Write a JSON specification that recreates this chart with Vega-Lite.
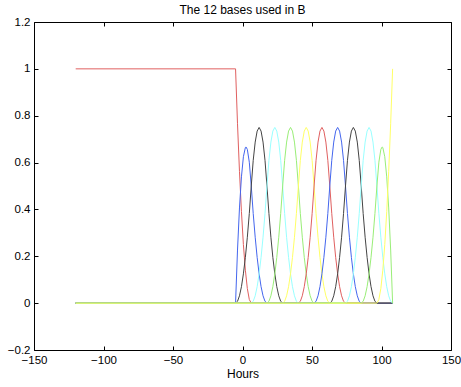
{
"$schema":"https://vega.github.io/schema/vega-lite/v6.json",
"width":417,"height":328,
"autosize":{"type":"none"},
"padding":{"left":34,"top":22,"right":10,"bottom":37},
"background":"white",
"config":{"view":{"stroke":null},"font":"Liberation Sans"},
"title":{"text":"The 12 bases used in B","fontSize":12,"fontWeight":"normal","color":"#000","offset":-1,"anchor":"middle","font":"Liberation Sans"},
"data":{"values":[
{"s":"B01","x":-120,"y":1},{"s":"B01","x":-5,"y":1},{"s":"B01","x":-3.59,"y":0.7656},{"s":"B01","x":-2.18,"y":0.5625},{"s":"B01","x":-0.76,"y":0.3906},{"s":"B01","x":0.65,"y":0.25},{"s":"B01","x":2.06,"y":0.1406},{"s":"B01","x":3.48,"y":0.0625},{"s":"B01","x":4.89,"y":0.0156},{"s":"B01","x":6.3,"y":0},{"s":"B01","x":108,"y":0},
{"s":"B02","x":-120,"y":0},{"s":"B02","x":-5,"y":0},{"s":"B02","x":-3.59,"y":0.2266},{"s":"B02","x":-2.18,"y":0.4063},{"s":"B02","x":-0.76,"y":0.5391},{"s":"B02","x":0.65,"y":0.625},{"s":"B02","x":2.06,"y":0.6641},{"s":"B02","x":2.53,"y":0.6667},{"s":"B02","x":3.48,"y":0.6563},{"s":"B02","x":4.89,"y":0.6016},{"s":"B02","x":6.3,"y":0.5},{"s":"B02","x":7.71,"y":0.3828},{"s":"B02","x":9.13,"y":0.2813},{"s":"B02","x":10.54,"y":0.1953},{"s":"B02","x":11.95,"y":0.125},{"s":"B02","x":13.36,"y":0.0703},{"s":"B02","x":14.78,"y":0.0313},{"s":"B02","x":16.19,"y":0.0078},{"s":"B02","x":17.6,"y":0},{"s":"B02","x":108,"y":0},
{"s":"B03","x":-120,"y":0},{"s":"B03","x":-5,"y":0},{"s":"B03","x":-3.59,"y":0.0078},{"s":"B03","x":-2.18,"y":0.0313},{"s":"B03","x":-0.76,"y":0.0703},{"s":"B03","x":0.65,"y":0.125},{"s":"B03","x":2.06,"y":0.1953},{"s":"B03","x":3.48,"y":0.2813},{"s":"B03","x":4.89,"y":0.3828},{"s":"B03","x":6.3,"y":0.5},{"s":"B03","x":7.71,"y":0.6094},{"s":"B03","x":9.13,"y":0.6875},{"s":"B03","x":10.54,"y":0.7344},{"s":"B03","x":11.95,"y":0.75},{"s":"B03","x":13.36,"y":0.7344},{"s":"B03","x":14.78,"y":0.6875},{"s":"B03","x":16.19,"y":0.6094},{"s":"B03","x":17.6,"y":0.5},{"s":"B03","x":19.01,"y":0.3828},{"s":"B03","x":20.43,"y":0.2813},{"s":"B03","x":21.84,"y":0.1953},{"s":"B03","x":23.25,"y":0.125},{"s":"B03","x":24.66,"y":0.0703},{"s":"B03","x":26.08,"y":0.0313},{"s":"B03","x":27.49,"y":0.0078},{"s":"B03","x":28.9,"y":0},{"s":"B03","x":108,"y":0},
{"s":"B04","x":-120,"y":0},{"s":"B04","x":6.3,"y":0},{"s":"B04","x":7.71,"y":0.0078},{"s":"B04","x":9.13,"y":0.0313},{"s":"B04","x":10.54,"y":0.0703},{"s":"B04","x":11.95,"y":0.125},{"s":"B04","x":13.36,"y":0.1953},{"s":"B04","x":14.78,"y":0.2813},{"s":"B04","x":16.19,"y":0.3828},{"s":"B04","x":17.6,"y":0.5},{"s":"B04","x":19.01,"y":0.6094},{"s":"B04","x":20.43,"y":0.6875},{"s":"B04","x":21.84,"y":0.7344},{"s":"B04","x":23.25,"y":0.75},{"s":"B04","x":24.66,"y":0.7344},{"s":"B04","x":26.08,"y":0.6875},{"s":"B04","x":27.49,"y":0.6094},{"s":"B04","x":28.9,"y":0.5},{"s":"B04","x":30.31,"y":0.3828},{"s":"B04","x":31.73,"y":0.2813},{"s":"B04","x":33.14,"y":0.1953},{"s":"B04","x":34.55,"y":0.125},{"s":"B04","x":35.96,"y":0.0703},{"s":"B04","x":37.38,"y":0.0313},{"s":"B04","x":38.79,"y":0.0078},{"s":"B04","x":40.2,"y":0},{"s":"B04","x":108,"y":0},
{"s":"B05","x":-120,"y":0},{"s":"B05","x":17.6,"y":0},{"s":"B05","x":19.01,"y":0.0078},{"s":"B05","x":20.43,"y":0.0313},{"s":"B05","x":21.84,"y":0.0703},{"s":"B05","x":23.25,"y":0.125},{"s":"B05","x":24.66,"y":0.1953},{"s":"B05","x":26.08,"y":0.2813},{"s":"B05","x":27.49,"y":0.3828},{"s":"B05","x":28.9,"y":0.5},{"s":"B05","x":30.31,"y":0.6094},{"s":"B05","x":31.73,"y":0.6875},{"s":"B05","x":33.14,"y":0.7344},{"s":"B05","x":34.55,"y":0.75},{"s":"B05","x":35.96,"y":0.7344},{"s":"B05","x":37.38,"y":0.6875},{"s":"B05","x":38.79,"y":0.6094},{"s":"B05","x":40.2,"y":0.5},{"s":"B05","x":41.61,"y":0.3828},{"s":"B05","x":43.03,"y":0.2813},{"s":"B05","x":44.44,"y":0.1953},{"s":"B05","x":45.85,"y":0.125},{"s":"B05","x":47.26,"y":0.0703},{"s":"B05","x":48.68,"y":0.0313},{"s":"B05","x":50.09,"y":0.0078},{"s":"B05","x":51.5,"y":0},{"s":"B05","x":108,"y":0},
{"s":"B06","x":-120,"y":0},{"s":"B06","x":28.9,"y":0},{"s":"B06","x":30.31,"y":0.0078},{"s":"B06","x":31.73,"y":0.0313},{"s":"B06","x":33.14,"y":0.0703},{"s":"B06","x":34.55,"y":0.125},{"s":"B06","x":35.96,"y":0.1953},{"s":"B06","x":37.38,"y":0.2813},{"s":"B06","x":38.79,"y":0.3828},{"s":"B06","x":40.2,"y":0.5},{"s":"B06","x":41.61,"y":0.6094},{"s":"B06","x":43.03,"y":0.6875},{"s":"B06","x":44.44,"y":0.7344},{"s":"B06","x":45.85,"y":0.75},{"s":"B06","x":47.26,"y":0.7344},{"s":"B06","x":48.68,"y":0.6875},{"s":"B06","x":50.09,"y":0.6094},{"s":"B06","x":51.5,"y":0.5},{"s":"B06","x":52.91,"y":0.3828},{"s":"B06","x":54.33,"y":0.2813},{"s":"B06","x":55.74,"y":0.1953},{"s":"B06","x":57.15,"y":0.125},{"s":"B06","x":58.56,"y":0.0703},{"s":"B06","x":59.98,"y":0.0313},{"s":"B06","x":61.39,"y":0.0078},{"s":"B06","x":62.8,"y":0},{"s":"B06","x":108,"y":0},
{"s":"B07","x":-120,"y":0},{"s":"B07","x":40.2,"y":0},{"s":"B07","x":41.61,"y":0.0078},{"s":"B07","x":43.03,"y":0.0313},{"s":"B07","x":44.44,"y":0.0703},{"s":"B07","x":45.85,"y":0.125},{"s":"B07","x":47.26,"y":0.1953},{"s":"B07","x":48.68,"y":0.2813},{"s":"B07","x":50.09,"y":0.3828},{"s":"B07","x":51.5,"y":0.5},{"s":"B07","x":52.91,"y":0.6094},{"s":"B07","x":54.33,"y":0.6875},{"s":"B07","x":55.74,"y":0.7344},{"s":"B07","x":57.15,"y":0.75},{"s":"B07","x":58.56,"y":0.7344},{"s":"B07","x":59.98,"y":0.6875},{"s":"B07","x":61.39,"y":0.6094},{"s":"B07","x":62.8,"y":0.5},{"s":"B07","x":64.21,"y":0.3828},{"s":"B07","x":65.63,"y":0.2813},{"s":"B07","x":67.04,"y":0.1953},{"s":"B07","x":68.45,"y":0.125},{"s":"B07","x":69.86,"y":0.0703},{"s":"B07","x":71.28,"y":0.0313},{"s":"B07","x":72.69,"y":0.0078},{"s":"B07","x":74.1,"y":0},{"s":"B07","x":108,"y":0},
{"s":"B08","x":-120,"y":0},{"s":"B08","x":51.5,"y":0},{"s":"B08","x":52.91,"y":0.0078},{"s":"B08","x":54.33,"y":0.0313},{"s":"B08","x":55.74,"y":0.0703},{"s":"B08","x":57.15,"y":0.125},{"s":"B08","x":58.56,"y":0.1953},{"s":"B08","x":59.98,"y":0.2813},{"s":"B08","x":61.39,"y":0.3828},{"s":"B08","x":62.8,"y":0.5},{"s":"B08","x":64.21,"y":0.6094},{"s":"B08","x":65.63,"y":0.6875},{"s":"B08","x":67.04,"y":0.7344},{"s":"B08","x":68.45,"y":0.75},{"s":"B08","x":69.86,"y":0.7344},{"s":"B08","x":71.28,"y":0.6875},{"s":"B08","x":72.69,"y":0.6094},{"s":"B08","x":74.1,"y":0.5},{"s":"B08","x":75.51,"y":0.3828},{"s":"B08","x":76.93,"y":0.2813},{"s":"B08","x":78.34,"y":0.1953},{"s":"B08","x":79.75,"y":0.125},{"s":"B08","x":81.16,"y":0.0703},{"s":"B08","x":82.58,"y":0.0313},{"s":"B08","x":83.99,"y":0.0078},{"s":"B08","x":85.4,"y":0},{"s":"B08","x":108,"y":0},
{"s":"B09","x":-120,"y":0},{"s":"B09","x":62.8,"y":0},{"s":"B09","x":64.21,"y":0.0078},{"s":"B09","x":65.63,"y":0.0313},{"s":"B09","x":67.04,"y":0.0703},{"s":"B09","x":68.45,"y":0.125},{"s":"B09","x":69.86,"y":0.1953},{"s":"B09","x":71.28,"y":0.2813},{"s":"B09","x":72.69,"y":0.3828},{"s":"B09","x":74.1,"y":0.5},{"s":"B09","x":75.51,"y":0.6094},{"s":"B09","x":76.93,"y":0.6875},{"s":"B09","x":78.34,"y":0.7344},{"s":"B09","x":79.75,"y":0.75},{"s":"B09","x":81.16,"y":0.7344},{"s":"B09","x":82.58,"y":0.6875},{"s":"B09","x":83.99,"y":0.6094},{"s":"B09","x":85.4,"y":0.5},{"s":"B09","x":86.81,"y":0.3828},{"s":"B09","x":88.23,"y":0.2813},{"s":"B09","x":89.64,"y":0.1953},{"s":"B09","x":91.05,"y":0.125},{"s":"B09","x":92.46,"y":0.0703},{"s":"B09","x":93.88,"y":0.0313},{"s":"B09","x":95.29,"y":0.0078},{"s":"B09","x":96.7,"y":0},{"s":"B09","x":108,"y":0},
{"s":"B10","x":-120,"y":0},{"s":"B10","x":74.1,"y":0},{"s":"B10","x":75.51,"y":0.0078},{"s":"B10","x":76.93,"y":0.0313},{"s":"B10","x":78.34,"y":0.0703},{"s":"B10","x":79.75,"y":0.125},{"s":"B10","x":81.16,"y":0.1953},{"s":"B10","x":82.58,"y":0.2813},{"s":"B10","x":83.99,"y":0.3828},{"s":"B10","x":85.4,"y":0.5},{"s":"B10","x":86.81,"y":0.6094},{"s":"B10","x":88.23,"y":0.6875},{"s":"B10","x":89.64,"y":0.7344},{"s":"B10","x":91.05,"y":0.75},{"s":"B10","x":92.46,"y":0.7344},{"s":"B10","x":93.88,"y":0.6875},{"s":"B10","x":95.29,"y":0.6094},{"s":"B10","x":96.7,"y":0.5},{"s":"B10","x":98.11,"y":0.3828},{"s":"B10","x":99.53,"y":0.2813},{"s":"B10","x":100.94,"y":0.1953},{"s":"B10","x":102.35,"y":0.125},{"s":"B10","x":103.76,"y":0.0703},{"s":"B10","x":105.18,"y":0.0313},{"s":"B10","x":106.59,"y":0.0078},{"s":"B10","x":108,"y":0},
{"s":"B11","x":-120,"y":0},{"s":"B11","x":85.4,"y":0},{"s":"B11","x":86.81,"y":0.0078},{"s":"B11","x":88.23,"y":0.0313},{"s":"B11","x":89.64,"y":0.0703},{"s":"B11","x":91.05,"y":0.125},{"s":"B11","x":92.46,"y":0.1953},{"s":"B11","x":93.88,"y":0.2813},{"s":"B11","x":95.29,"y":0.3828},{"s":"B11","x":96.7,"y":0.5},{"s":"B11","x":98.11,"y":0.6016},{"s":"B11","x":99.53,"y":0.6563},{"s":"B11","x":100.47,"y":0.6667},{"s":"B11","x":100.94,"y":0.6641},{"s":"B11","x":102.35,"y":0.625},{"s":"B11","x":103.76,"y":0.5391},{"s":"B11","x":105.18,"y":0.4063},{"s":"B11","x":106.59,"y":0.2266},{"s":"B11","x":108,"y":0},
{"s":"B12","x":-120,"y":0},{"s":"B12","x":96.7,"y":0},{"s":"B12","x":98.11,"y":0.0156},{"s":"B12","x":99.53,"y":0.0625},{"s":"B12","x":100.94,"y":0.1406},{"s":"B12","x":102.35,"y":0.25},{"s":"B12","x":103.76,"y":0.3906},{"s":"B12","x":105.18,"y":0.5625},{"s":"B12","x":106.59,"y":0.7656},{"s":"B12","x":108,"y":1}
]},
"layer":[
{"mark":{"type":"line","strokeWidth":1,"clip":true},
 "encoding":{
  "x":{"field":"x","type":"quantitative","scale":{"domain":[-150,150],"nice":false,"zero":false},
       "axis":{"orient":"bottom","values":[-150,-100,-50,0,50,100,150],"title":"Hours","titleFontSize":12,"titleFontWeight":"normal","titleColor":"#000","titlePadding":3,"titleFont":"Liberation Sans","labelFont":"Liberation Sans","labelFontSize":11.5,"labelColor":"#000","labelPadding":8,"tickSize":-4,"tickColor":"#000","domainColor":"#000","grid":false,"labelFlush":false,"labelOverlap":false}},
  "y":{"field":"y","type":"quantitative","scale":{"domain":[-0.2,1.2],"nice":false,"zero":false},
       "axis":{"orient":"left","values":[-0.2,0,0.2,0.4,0.6,0.8,1,1.2],"format":".1~f","title":null,"labelFont":"Liberation Sans","labelFontSize":11.5,"labelColor":"#000","labelPadding":8,"tickSize":-4,"tickColor":"#000","domainColor":"#000","grid":false,"labelFlush":false,"labelOverlap":false}},
  "color":{"field":"s","type":"nominal","legend":null,
       "scale":{"domain":["B01","B02","B03","B04","B05","B06","B07","B08","B09","B10","B11","B12"],
                "range":["#e06060","#4466ee","#444444","#99ffff","#99ee77","#ffff66","#e06060","#4466ee","#444444","#99ffff","#99ee77","#ffff66"]}}
 }},
{"mark":{"type":"line","strokeOpacity":0},
 "encoding":{
  "x":{"field":"x","type":"quantitative","axis":{"orient":"top","values":[-150,-100,-50,0,50,100,150],"labels":false,"title":null,"tickSize":-4,"tickColor":"#000","domainColor":"#000","grid":false}},
  "y":{"field":"y","type":"quantitative","axis":{"orient":"right","values":[-0.2,0,0.2,0.4,0.6,0.8,1,1.2],"labels":false,"title":null,"tickSize":-4,"tickColor":"#000","domainColor":"#000","grid":false}}
 }}
],
"resolve":{"axis":{"x":"independent","y":"independent"}}
}
